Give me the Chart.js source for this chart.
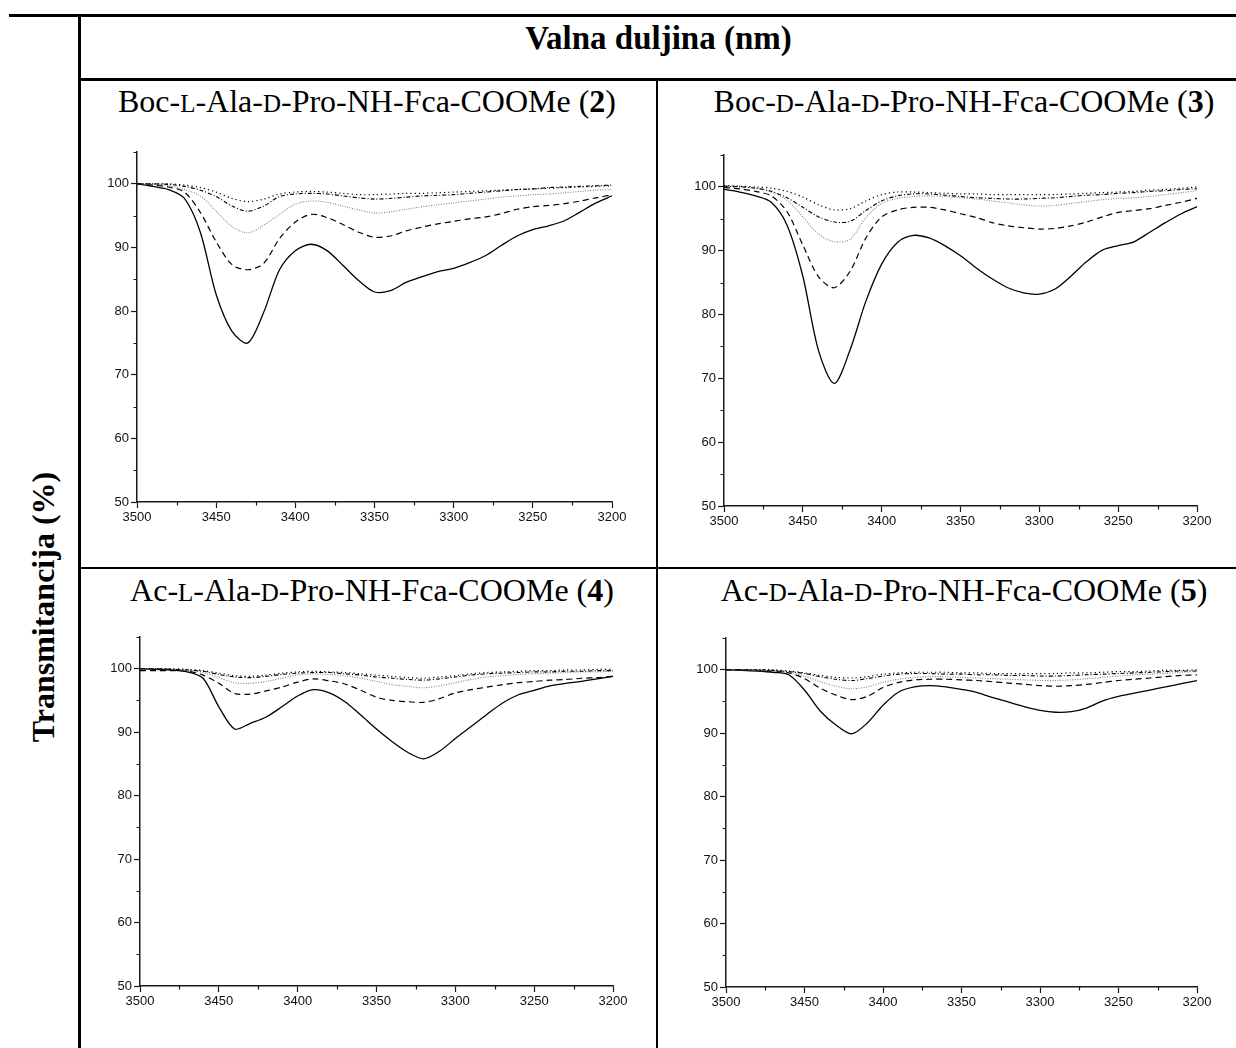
<!DOCTYPE html>
<html>
<head>
<meta charset="utf-8">
<script src="https://cdn.jsdelivr.net/npm/chart.js@4"></script>
<style>
  html, body { margin: 0; padding: 0; background: #fff; }
  body { width: 1236px; height: 1048px; position: relative; overflow: hidden; }
  .rule { position: absolute; background: #000; }
  .serif { position: absolute; font-family: "Liberation Serif", "Times New Roman", serif; font-size: 32px; line-height: 1; color: #000; white-space: nowrap; }
  .sc { font-size: 0.78em; }
  canvas { position: absolute; }
</style>
</head>
<body>
<!-- table rules -->
<div class="rule" style="left:9px; top:14px; width:1227px; height:3px;"></div>
<div class="rule" style="left:78px; top:14px; width:3px; height:1034px;"></div>
<div class="rule" style="left:78px; top:78px; width:1158px; height:3px;"></div>
<div class="rule" style="left:656px; top:80px; width:2px; height:968px;"></div>
<div class="rule" style="left:80px; top:567px; width:1156px; height:2px;"></div>

<div class="serif" style="left:81px; width:1155px; top:22px; text-align:center; font-weight:bold; font-size:33px;">Valna duljina (nm)</div>
<div class="serif" style="left:43px; top:607px; width:400px; text-align:center; font-weight:bold; transform: translate(-50%, -50%) rotate(-90deg);">Transmitancija (%)</div>

<div class="serif" style="left:367px; top:85px; transform: translateX(-50%);">Boc-<span class="sc">L</span>-Ala-<span class="sc">D</span>-Pro-NH-Fca-COOMe (<b>2</b>)</div>
<div class="serif" style="left:964px; top:85px; transform: translateX(-50%);">Boc-<span class="sc">D</span>-Ala-<span class="sc">D</span>-Pro-NH-Fca-COOMe (<b>3</b>)</div>
<div class="serif" style="left:372px; top:574px; transform: translateX(-50%);">Ac-<span class="sc">L</span>-Ala-<span class="sc">D</span>-Pro-NH-Fca-COOMe (<b>4</b>)</div>
<div class="serif" style="left:964px; top:574px; transform: translateX(-50%);">Ac-<span class="sc">D</span>-Ala-<span class="sc">D</span>-Pro-NH-Fca-COOMe (<b>5</b>)</div>

<canvas id="chart2"></canvas>
<canvas id="chart3"></canvas>
<canvas id="chart4"></canvas>
<canvas id="chart5"></canvas>

<script>
// Wavenumbers (cm-1), shared by every curve
const wavenumbers = [3500, 3490, 3480, 3470, 3460, 3450, 3440, 3430, 3420, 3410, 3400, 3390, 3380, 3370, 3360, 3350,
  3340, 3330, 3320, 3310, 3300, 3290, 3280, 3270, 3260, 3250, 3240, 3230, 3220, 3210, 3200];
const xTicks = [3500, 3450, 3400, 3350, 3300, 3250, 3200];
const yTicks = [50, 60, 70, 80, 90, 100];

// Boc-L-Ala-D-Pro-NH-Fca-COOMe (2)
const c2Solid = [100, 99.6, 99.1, 97.7, 92.4, 82.6, 76.8, 75.0, 79.8, 86.5, 89.5, 90.5, 89.5, 87.2, 84.8, 83.0,
  83.2, 84.5, 85.4, 86.2, 86.7, 87.6, 88.7, 90.3, 91.8, 92.8, 93.4, 94.2, 95.6, 97.0, 98.1];
const c2Dash = [100, 99.8, 99.5, 98.7, 95.5, 90.9, 87.3, 86.5, 87.5, 91.4, 94.0, 95.2, 94.7, 93.6, 92.4, 91.6,
  91.8, 92.6, 93.2, 93.7, 94.1, 94.5, 94.8, 95.3, 96.0, 96.4, 96.6, 96.9, 97.3, 97.8, 98.3];
const c2Gray = [100, 99.9, 99.7, 99.1, 98.1, 95.7, 93.3, 92.3, 93.5, 95.2, 96.8, 97.3, 97.1, 96.5, 95.9, 95.4,
  95.6, 96.0, 96.4, 96.7, 97.0, 97.3, 97.6, 97.9, 98.1, 98.3, 98.4, 98.6, 98.8, 99.0, 99.1];
const c2DashDot = [100, 100, 99.9, 99.6, 99.0, 98.0, 96.5, 95.7, 96.5, 98.0, 98.4, 98.5, 98.4, 98.1, 97.8, 97.6,
  97.7, 97.9, 98.1, 98.2, 98.3, 98.5, 98.7, 98.9, 99.1, 99.2, 99.4, 99.5, 99.6, 99.7, 99.8];
const c2Dot = [100, 100, 100, 99.8, 99.4, 98.7, 97.7, 97.2, 97.6, 98.4, 98.7, 98.8, 98.7, 98.5, 98.3, 98.3,
  98.4, 98.5, 98.5, 98.6, 98.7, 98.8, 98.9, 99.0, 99.1, 99.2, 99.3, 99.4, 99.5, 99.6, 99.7];

// Boc-D-Ala-D-Pro-NH-Fca-COOMe (3)
const c3Solid = [99.6, 99.2, 98.6, 97.6, 94.0, 86.0, 74.3, 69.2, 74.5, 82.1, 87.9, 91.3, 92.4, 92.0, 90.8, 89.2,
  87.3, 85.6, 84.2, 83.4, 83.2, 84.0, 86.0, 88.3, 90.1, 90.8, 91.4, 92.9, 94.4, 95.8, 96.9];
const c3Dash = [99.9, 99.7, 99.3, 98.6, 96.1, 90.9, 85.9, 84.2, 86.8, 92.0, 95.3, 96.4, 96.8, 96.8, 96.4, 95.8,
  95.2, 94.4, 93.9, 93.6, 93.4, 93.5, 93.9, 94.5, 95.3, 96.0, 96.3, 96.6, 97.1, 97.6, 98.2];
const c3Gray = [100.2, 100.1, 99.8, 99.2, 97.9, 95.3, 92.6, 91.4, 91.8, 95.2, 97.4, 98.2, 98.5, 98.6, 98.5, 98.3,
  98.1, 97.8, 97.5, 97.2, 97.0, 97.1, 97.4, 97.7, 98.0, 98.2, 98.3, 98.5, 98.8, 99.1, 99.4];
const c3DashDot = [100.1, 100.0, 99.8, 99.3, 98.3, 96.8, 95.3, 94.5, 94.6, 96.3, 97.8, 98.6, 98.9, 98.9, 98.7, 98.5,
  98.3, 98.2, 98.1, 98.1, 98.2, 98.3, 98.5, 98.7, 98.8, 99.0, 99.1, 99.3, 99.4, 99.6, 99.7];
const c3Dot = [100.2, 100.1, 100.0, 99.8, 99.3, 98.4, 97.2, 96.4, 96.6, 97.8, 98.8, 99.2, 99.2, 99.1, 99.0, 98.9,
  98.9, 98.8, 98.8, 98.8, 98.8, 98.8, 98.9, 99.0, 99.1, 99.2, 99.3, 99.5, 99.6, 99.8, 100.0];

// Ac-L-Ala-D-Pro-NH-Fca-COOMe (4)
const c4Solid = [100, 99.9, 99.8, 99.5, 98.5, 94.0, 90.5, 91.4, 92.4, 94.0, 95.7, 96.7, 96.2, 94.8, 92.7, 90.5,
  88.5, 86.8, 85.8, 87.0, 89.0, 90.9, 92.8, 94.6, 95.9, 96.6, 97.3, 97.7, 98.0, 98.4, 98.8];
const c4Dash = [99.7, 99.7, 99.7, 99.6, 99.0, 97.7, 96.1, 96.0, 96.5, 97.1, 97.9, 98.4, 98.1, 97.6, 96.6, 95.5,
  95.0, 94.8, 94.7, 95.3, 96.2, 96.7, 97.1, 97.5, 97.8, 98.0, 98.2, 98.3, 98.5, 98.6, 98.8];
const c4Gray = [100, 100, 99.9, 99.8, 99.4, 98.6, 97.8, 97.7, 98.0, 98.5, 99.0, 99.2, 99.1, 98.9, 98.5, 98.0,
  97.5, 97.2, 97.0, 97.3, 97.8, 98.3, 98.7, 98.9, 99.1, 99.2, 99.3, 99.4, 99.5, 99.5, 99.6];
const c4DashDot = [100, 100, 99.9, 99.8, 99.6, 99.1, 98.7, 98.6, 98.8, 99.1, 99.3, 99.4, 99.4, 99.2, 99.0, 98.7,
  98.5, 98.3, 98.2, 98.4, 98.7, 99.0, 99.2, 99.3, 99.4, 99.5, 99.5, 99.6, 99.6, 99.7, 99.7];
const c4Dot = [100, 100, 100, 99.9, 99.7, 99.3, 98.9, 98.8, 99.0, 99.3, 99.5, 99.6, 99.5, 99.4, 99.2, 99.0,
  98.8, 98.6, 98.5, 98.7, 98.9, 99.2, 99.4, 99.5, 99.6, 99.7, 99.7, 99.8, 99.8, 99.9, 99.9];

// Ac-D-Ala-D-Pro-NH-Fca-COOMe (5)
const c5Solid = [100, 99.9, 99.8, 99.6, 99.2, 96.8, 93.5, 91.3, 89.9, 91.6, 94.4, 96.5, 97.3, 97.5, 97.3, 96.9,
  96.4, 95.6, 94.9, 94.2, 93.6, 93.3, 93.4, 94.0, 95.1, 95.8, 96.3, 96.8, 97.3, 97.8, 98.3];
const c5Dash = [100, 100, 99.9, 99.8, 99.5, 98.6, 97.1, 96.0, 95.3, 95.8, 97.2, 98.0, 98.4, 98.5, 98.5, 98.4,
  98.3, 98.1, 97.9, 97.7, 97.5, 97.4, 97.5, 97.7, 98.0, 98.3, 98.5, 98.7, 98.9, 99.1, 99.2];
const c5Gray = [100, 100, 99.9, 99.8, 99.6, 99.0, 98.1, 97.4, 97.0, 97.3, 98.0, 98.5, 98.8, 98.9, 98.9, 98.8,
  98.7, 98.6, 98.5, 98.4, 98.3, 98.3, 98.4, 98.6, 98.8, 99.0, 99.2, 99.3, 99.4, 99.6, 99.7];
const c5DashDot = [100, 100, 100, 99.9, 99.7, 99.4, 98.9, 98.5, 98.3, 98.6, 99.0, 99.3, 99.4, 99.4, 99.3, 99.3,
  99.2, 99.2, 99.1, 99.1, 99.0, 99.0, 99.1, 99.2, 99.3, 99.4, 99.5, 99.6, 99.7, 99.8, 99.8];
const c5Dot = [100, 100, 100, 100, 99.8, 99.5, 99.1, 98.8, 98.7, 98.9, 99.3, 99.5, 99.6, 99.6, 99.6, 99.5,
  99.5, 99.4, 99.4, 99.4, 99.4, 99.4, 99.5, 99.5, 99.6, 99.7, 99.7, 99.8, 99.9, 99.9, 100];

// line styles, in the order solid, dashed, grey dotted, dash-dot, dotted
const styles = [
  { color: '#000', width: 1.3, dash: [] },
  { color: '#000', width: 1.2, dash: [6, 4] },
  { color: '#808080', width: 1.1, dash: [1, 1.5] },
  { color: '#000', width: 1.1, dash: [4, 2, 1, 2] },
  { color: '#000', width: 1.2, dash: [1.2, 3] }
];

// plot boxes (the axes area) for each panel
const panels = [
  { id: 'chart2', left: 137, right: 612, top: 152, bottom: 502, series: [c2Solid, c2Dash, c2Gray, c2DashDot, c2Dot] },
  { id: 'chart3', left: 724, right: 1197, top: 155, bottom: 506, series: [c3Solid, c3Dash, c3Gray, c3DashDot, c3Dot] },
  { id: 'chart4', left: 140, right: 613, top: 637, bottom: 986, series: [c4Solid, c4Dash, c4Gray, c4DashDot, c4Dot] },
  { id: 'chart5', left: 726, right: 1197, top: 638, bottom: 987, series: [c5Solid, c5Dash, c5Gray, c5DashDot, c5Dot] }
];

const axisColor = '#1a1a1a';
const tickFont = { family: '"Liberation Sans", Arial, sans-serif', size: 13 };
const Y_AXIS_W = 40, X_AXIS_H = 30, PAD_L = 5, PAD_T = 10, PAD_R = 30, PAD_B = 5;

// minor ticks between labelled ones
const minorTicks = {
  id: 'minorTicks',
  afterDraw(chart) {
    const { ctx, scales: { x, y } } = chart;
    ctx.save();
    ctx.strokeStyle = axisColor;
    ctx.lineWidth = 1.2;
    ctx.beginPath();
    for (let i = 0; i < xTicks.length - 1; i++) {
      const px = Math.round(x.getPixelForValue((xTicks[i] + xTicks[i + 1]) / 2)) + 0.5;
      ctx.moveTo(px, y.bottom);
      ctx.lineTo(px, y.bottom + 3.5);
    }
    for (let i = 0; i < yTicks.length; i++) {
      const py = Math.round(y.getPixelForValue(yTicks[i] + 5)) + 0.5;
      ctx.moveTo(x.left, py);
      ctx.lineTo(x.left - 3.5, py);
    }
    ctx.stroke();
    ctx.restore();
  }
};

panels.forEach(p => {
  const canvas = document.getElementById(p.id);
  const w = (p.right - p.left) + Y_AXIS_W + PAD_L + PAD_R;
  const h = (p.bottom - p.top) + X_AXIS_H + PAD_T + PAD_B;
  canvas.width = w;
  canvas.height = h;
  canvas.style.width = w + 'px';
  canvas.style.height = h + 'px';
  canvas.style.left = (p.left - Y_AXIS_W - PAD_L) + 'px';
  canvas.style.top = (p.top - PAD_T) + 'px';

  new Chart(canvas, {
    type: 'line',
    data: {
      datasets: p.series.map((vals, i) => ({
        data: wavenumbers.map((wn, k) => ({ x: wn, y: vals[k] })),
        borderColor: styles[i].color,
        borderWidth: styles[i].width,
        borderDash: styles[i].dash,
        pointRadius: 0,
        fill: false,
        tension: 0.3
      })).reverse()
    },
    options: {
      responsive: false,
      devicePixelRatio: 1,
      animation: false,
      events: [],
      layout: { padding: { left: PAD_L, top: PAD_T, right: PAD_R, bottom: PAD_B } },
      plugins: { legend: { display: false }, tooltip: { enabled: false } },
      scales: {
        x: {
          type: 'linear',
          reverse: true,
          min: 3200,
          max: 3500,
          afterFit: s => { s.height = X_AXIS_H; },
          border: { color: axisColor, width: 1.5 },
          grid: { drawOnChartArea: false, tickLength: 6, tickColor: axisColor, tickWidth: 1.2 },
          afterBuildTicks: s => { s.ticks = xTicks.map(v => ({ value: v })); },
          ticks: { color: '#111', font: tickFont, padding: 2, maxRotation: 0, callback: v => String(v) }
        },
        y: {
          min: 50,
          max: 105,
          afterFit: s => { s.width = Y_AXIS_W; },
          border: { color: axisColor, width: 1.5 },
          grid: { drawOnChartArea: false, tickLength: 6, tickColor: axisColor, tickWidth: 1.2 },
          afterBuildTicks: s => { s.ticks = yTicks.map(v => ({ value: v })); },
          ticks: { color: '#111', font: tickFont, padding: 2, callback: v => String(v) }
        }
      }
    },
    plugins: [minorTicks]
  });
});
</script>
</body>
</html>
